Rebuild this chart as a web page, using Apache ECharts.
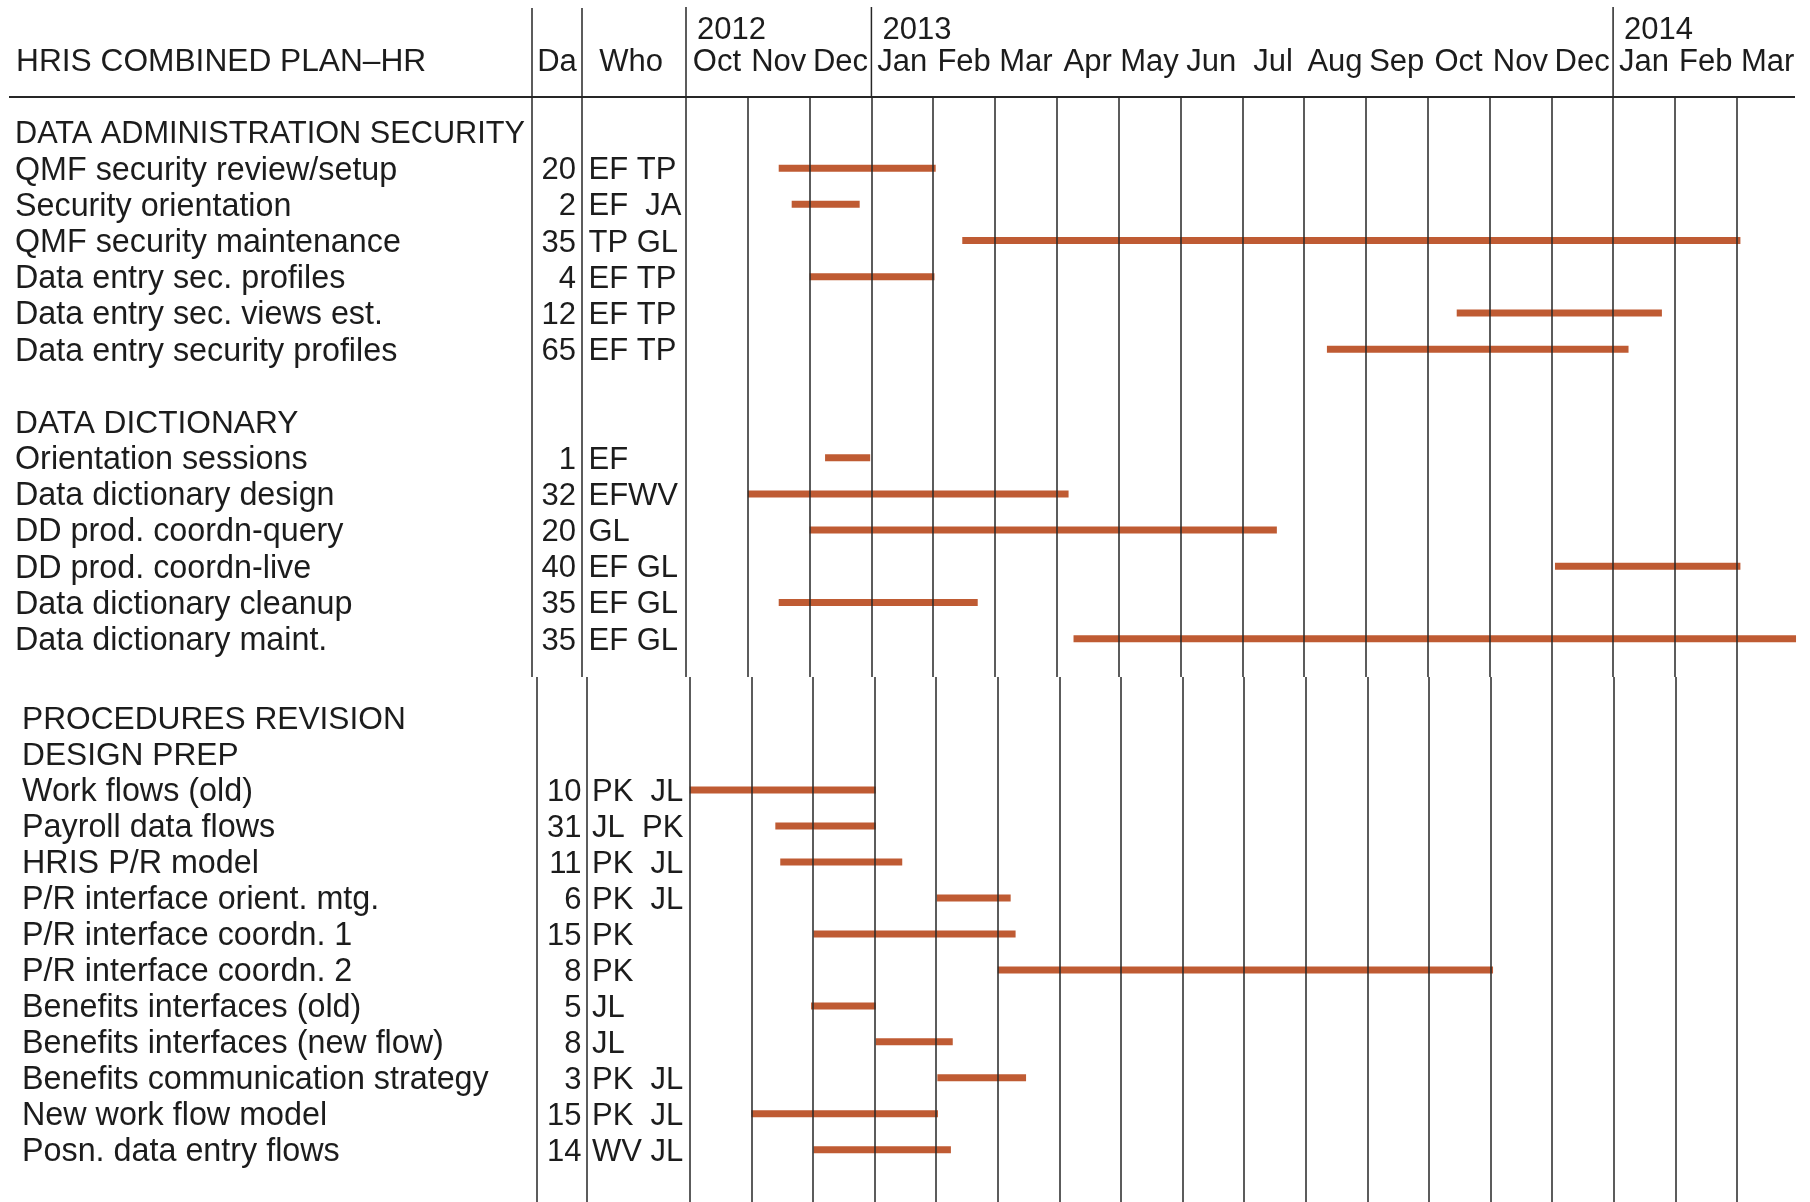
<!DOCTYPE html>
<html>
<head>
<meta charset="utf-8">
<script src="https://cdn.jsdelivr.net/npm/echarts@6/dist/echarts.min.js"></script>
<style>html,body{margin:0;padding:0;background:#fff}#c{width:1810px;height:1202px}</style>
</head>
<body>
<div id="c"></div>
<script>
// ---------- DATA ----------
const chartTitle = 'HRIS COMBINED PLAN–HR';
const colHeaders = ['Da', 'Who'];
const monthLabels = ['Oct','Nov','Dec','Jan','Feb','Mar','Apr','May','Jun','Jul','Aug','Sep','Oct','Nov','Dec','Jan','Feb','Mar'];
const yearLabels = ['2012', '2013', '2014'];
const yearStartMonth = [0, 3, 15];           // month index (0 = Oct 2012) where each year label starts
const sectionTitles = [['DATA ADMINISTRATION SECURITY'], ['DATA DICTIONARY'], ['PROCEDURES REVISION', 'DESIGN PREP']];
const sectionPanel = [0, 0, 1];
const taskSection = [0,0,0,0,0,0, 1,1,1,1,1,1, 2,2,2,2,2,2,2,2,2,2,2];
const taskNames = [
  'QMF security review/setup', 'Security orientation', 'QMF security maintenance',
  'Data entry sec. profiles', 'Data entry sec. views est.', 'Data entry security profiles',
  'Orientation sessions', 'Data dictionary design', 'DD prod. coordn-query',
  'DD prod. coordn-live', 'Data dictionary cleanup', 'Data dictionary maint.',
  'Work flows (old)', 'Payroll data flows', 'HRIS P/R model', 'P/R interface orient. mtg.',
  'P/R interface coordn. 1', 'P/R interface coordn. 2', 'Benefits interfaces (old)',
  'Benefits interfaces (new flow)', 'Benefits communication strategy', 'New work flow model',
  'Posn. data entry flows'
];
const taskDays = [20, 2, 35, 4, 12, 65, 1, 32, 20, 40, 35, 35, 10, 31, 11, 6, 15, 8, 5, 8, 3, 15, 14];
const taskWho = ['EF TP', 'EF  JA', 'TP GL', 'EF TP', 'EF TP', 'EF TP',
  'EF', 'EFWV', 'GL', 'EF GL', 'EF GL', 'EF GL',
  'PK  JL', 'JL  PK', 'PK  JL', 'PK  JL', 'PK', 'PK', 'JL', 'JL', 'PK  JL', 'PK  JL', 'WV JL'];
// start / end in months counted from 1 Oct 2012
const taskStart = [1.50, 1.71, 4.47, 2.00, 12.47, 10.37, 2.25, 1.00, 2.00, 14.06, 1.50, 6.27,
  0.00, 1.39, 1.47, 4.01, 2.01, 5.00, 1.97, 3.02, 4.02, 1.00, 2.01];
const taskEnd = [4.04, 2.81, 17.06, 4.02, 15.79, 15.25, 2.98, 6.19, 9.56, 17.06, 4.72, 17.96,
  3.02, 3.02, 3.45, 5.21, 5.29, 13.04, 3.02, 4.27, 5.46, 4.03, 4.24];

// ---------- STYLE / LAYOUT ----------
const INK = '#1c1c1c';
const RULE = '#262626';
const BAR = '#bf5b33';
const BAR_H = 7;
const FAM = '"Liberation Sans", Arial, Helvetica, sans-serif';
const SIZE_SECTION = 31.7, SIZE_NAME = 32.3, SIZE_CELL = 31, SIZE_HEAD = 31, SIZE_TITLE = 31.7;
const TEXT_DY = 2.5;
const panels = [
  {top: 97, height: 580, yMin: -0.967, yMax: 15.06, left: 686, right: 11.5,
   nameX: 15, daysX: 576, whoX: 588.5, colDa: 532, colWho: 582, ruleTop: 8, ruleBottom: 677},
  {top: 677, height: 525, yMin: -1.14, yMax: 13.45, left: 689.7, right: 11.4,
   nameX: 22, daysX: 581.5, whoX: 592, colDa: 537, colWho: 587, ruleTop: 677, ruleBottom: 1202}
];
const YEAR_Y = 28, MONTH_Y = 60, YEAR_RULE_TOP = 7;

const mctx = document.createElement('canvas').getContext('2d');
function fitSize(s, size, maxW) {
  mctx.font = size + 'px ' + FAM;
  const w = mctx.measureText(s).width;
  return w > maxW ? size * maxW / w : size;
}
function txt(x, y, s, size, align) {
  return {type: 'text', x: x, y: y + TEXT_DY, silent: true,
    style: {text: s, fill: INK, font: size + 'px ' + FAM, align: align, verticalAlign: 'middle',
            textAlign: align, textVerticalAlign: 'middle'}};
}

// ---------- ROW LAYOUT ----------
const panelItems = [[], []];
const panelBars = [[], []];
const nextRow = [0, 0];
sectionTitles.forEach((lines, s) => {
  const p = sectionPanel[s];
  if (nextRow[p] > 0) nextRow[p] += 1;
  lines.forEach(t => panelItems[p].push({row: nextRow[p]++, kind: 'section', text: t}));
  taskNames.forEach((name, i) => {
    if (taskSection[i] !== s) return;
    const row = nextRow[p]++;
    panelItems[p].push({row: row, kind: 'task', i: i});
    panelBars[p].push([taskStart[i], taskEnd[i], row]);
  });
});

// ---------- OPTION ----------
const grid = panels.map(P => ({left: P.left, right: P.right, top: P.top, height: P.height, show: false}));
const xAxis = panels.map((P, p) => ({
  type: 'value', gridIndex: p, min: 0, max: 18, interval: 1, position: 'top', z: 3,
  axisLine: {show: false}, axisTick: {show: false}, axisLabel: {show: false},
  splitLine: {show: true, showMaxLine: false, lineStyle: {color: RULE, width: 1.5}}
}));
const yAxis = panels.map((P, p) => ({
  type: 'value', gridIndex: p, inverse: true, min: P.yMin, max: P.yMax, show: false,
  splitLine: {show: false}
}));

const series = [];
panels.forEach((P, p) => {
  series.push({
    type: 'custom', xAxisIndex: p, yAxisIndex: p, silent: true, z: 1,
    encode: {x: [0, 1], y: 2},
    data: panelBars[p],
    renderItem: (params, api) => {
      const a = api.coord([api.value(0), api.value(2)]);
      const b = api.coord([api.value(1), api.value(2)]);
      return {type: 'rect', shape: {x: a[0], y: a[1] - BAR_H / 2, width: b[0] - a[0], height: BAR_H},
              style: {fill: BAR}};
    }
  });
  series.push({
    type: 'custom', xAxisIndex: p, yAxisIndex: p, silent: true, clip: false, z: 2,
    encode: {x: 0, y: 1},
    data: panelItems[p].map(it => [0, it.row]),
    renderItem: (params, api) => {
      const it = panelItems[p][params.dataIndex];
      const y = api.coord([0, api.value(1)])[1];
      if (it.kind === 'section') {
        const sz = fitSize(it.text, SIZE_SECTION, P.colDa - P.nameX - 7);
        return txt(P.nameX, y, it.text, sz, 'left');
      }
      const i = it.i;
      return {type: 'group', children: [
        txt(P.nameX, y, taskNames[i], fitSize(taskNames[i], SIZE_NAME, P.colDa - P.nameX - 7), 'left'),
        txt(P.daysX, y, String(taskDays[i]), SIZE_CELL, 'right'),
        txt(P.whoX, y, taskWho[i], SIZE_CELL, 'left')
      ]};
    }
  });
});
// month labels (centred in each month column)
series.push({
  type: 'custom', xAxisIndex: 0, yAxisIndex: 0, silent: true, clip: false, z: 2,
  encode: {x: [0, 1], y: 2},
  data: monthLabels.map((m, i) => [i, i + 1, 0]),
  renderItem: (params, api) => {
    const a = api.coord([api.value(0), 0])[0];
    const b = api.coord([api.value(1), 0])[0];
    return txt((a + b) / 2, MONTH_Y, monthLabels[params.dataIndex], SIZE_HEAD, 'center');
  }
});
// year labels and the rules that run up to them
series.push({
  type: 'custom', xAxisIndex: 0, yAxisIndex: 0, silent: true, clip: false, z: 3,
  encode: {x: 0, y: 1},
  data: yearStartMonth.map(m => [m, 0]),
  renderItem: (params, api) => {
    const x = api.coord([api.value(0), 0])[0];
    const gTop = api.coord([api.value(0), panels[0].yMin])[1];
    return {type: 'group', children: [
      {type: 'line', silent: true, shape: {x1: x, y1: YEAR_RULE_TOP, x2: x, y2: gTop},
       style: {stroke: RULE, lineWidth: 1.5}},
      txt(x + 11, YEAR_Y, yearLabels[params.dataIndex], SIZE_HEAD, 'left')
    ]};
  }
});

function headText(x, s, size, align) {
  return {type: 'text', z: 5, silent: true, x: x, y: 60 + TEXT_DY,
    style: {text: s, fill: INK, font: size + 'px ' + FAM, align: align, verticalAlign: 'middle',
            textAlign: align, textVerticalAlign: 'middle'}};
}
const graphic = [
  {type: 'line', z: 5, silent: true, shape: {x1: 9, y1: 97, x2: 1795, y2: 97}, style: {stroke: RULE, lineWidth: 2}},
  headText(16, chartTitle, fitSize(chartTitle, SIZE_TITLE, 510), 'left'),
  headText(557, colHeaders[0], SIZE_HEAD, 'center'),
  headText(631, colHeaders[1], SIZE_HEAD, 'center')
];
panels.forEach(P => {
  [P.colDa, P.colWho].forEach(x => graphic.push({
    type: 'line', z: 5, silent: true, shape: {x1: x, y1: P.ruleTop, x2: x, y2: P.ruleBottom},
    style: {stroke: RULE, lineWidth: 1.5}
  }));
});

const chart = echarts.init(document.getElementById('c'), null, {renderer: 'canvas', width: 1810, height: 1202});
chart.setOption({
  backgroundColor: '#ffffff',
  animation: false,
  grid: grid,
  xAxis: xAxis,
  yAxis: yAxis,
  series: series,
  graphic: graphic
});
</script>
</body>
</html>
